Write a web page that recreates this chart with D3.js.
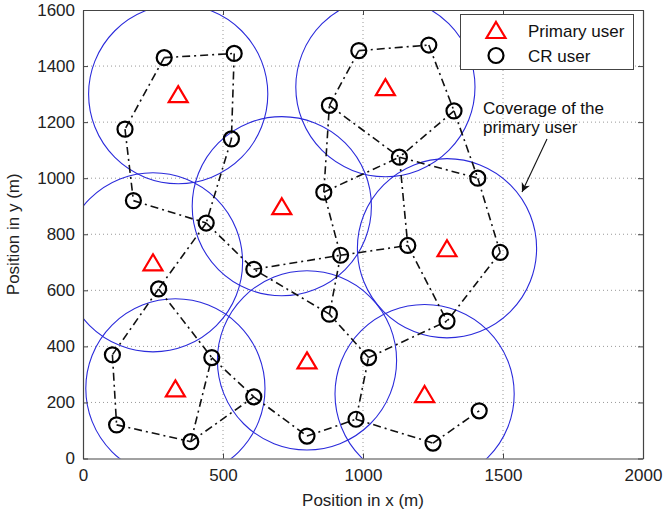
<!DOCTYPE html>
<html>
<head>
<meta charset="utf-8">
<script src="https://cdn.jsdelivr.net/npm/d3@7"></script>
<style>
  body { margin: 0; background: #fff; }
  svg { display: block; font-family: "Liberation Sans", Arial, sans-serif; }
</style>
</head>
<body>
<div id="chart"></div>
<script>
// primary users (triangles) and their coverage circles
const puX = [340, 710, 1080, 250, 330, 800, 1300, 1220];
const puY = [1300, 900, 1325, 700, 250, 350, 750, 230];
const coverageRadius = 320;

// CR users (circles)
const crX = [290, 540, 150, 530, 180, 440, 270, 610, 105, 460,
             120, 385, 610, 800, 880, 920, 975, 1020, 1250, 1415,
             1300, 1160, 1490, 860, 880, 985, 1235, 1325, 1130, 1410];
const crY = [1430, 1445, 1175, 1140, 920, 840, 605, 675, 370, 360,
             120, 60, 220, 80, 515, 725, 140, 360, 55, 170,
             490, 760, 735, 950, 1260, 1455, 1475, 1240, 1075, 1000];

// links between CR users (index pairs)
const links = [[0,1],[0,2],[1,3],[2,4],[4,5],[3,5],[5,6],[5,7],[6,8],[6,9],
               [8,10],[10,11],[11,9],[11,12],[9,12],[12,13],[13,16],[16,17],[16,18],[18,19],
               [17,14],[17,20],[14,7],[14,15],[7,15],[15,23],[15,21],[23,24],[23,28],[24,25],
               [24,28],[25,26],[26,27],[27,28],[27,29],[28,29],[28,21],[29,22],[22,20],[21,20]];

const xTicks = [0, 500, 1000, 1500, 2000];
const yTicks = [0, 200, 400, 600, 800, 1000, 1200, 1400, 1600];

const width = 665, height = 512;
const margin = { top: 10, right: 22, bottom: 53.5, left: 83 };
const iw = width - margin.left - margin.right;
const ih = height - margin.top - margin.bottom;

const svg = d3.select("#chart").append("svg")
  .attr("width", width).attr("height", height);

const x = d3.scaleLinear().domain([0, 2000]).range([0, iw]);
const y = d3.scaleLinear().domain([0, 1600]).range([ih, 0]);

const g = svg.append("g").attr("transform", `translate(${margin.left},${margin.top})`);

g.append("clipPath").attr("id", "clip")
  .append("rect").attr("width", iw).attr("height", ih);

// grid
g.append("g").selectAll("line").data(xTicks.slice(1, -1)).join("line")
  .attr("x1", d => x(d)).attr("x2", d => x(d)).attr("y1", 0).attr("y2", ih)
  .attr("stroke", "#999").attr("stroke-dasharray", "1,3");
g.append("g").selectAll("line").data(yTicks.slice(1, -1)).join("line")
  .attr("y1", d => y(d)).attr("y2", d => y(d)).attr("x1", 0).attr("x2", iw)
  .attr("stroke", "#999").attr("stroke-dasharray", "1,3");

const plot = g.append("g").attr("clip-path", "url(#clip)");

// coverage circles
plot.selectAll(".cov").data(puX).join("circle")
  .attr("cx", d => x(d)).attr("cy", (d, i) => y(puY[i]))
  .attr("r", x(coverageRadius) - x(0))
  .attr("fill", "none").attr("stroke", "#2b2bdb").attr("stroke-width", 1.1);

// links
plot.selectAll(".link").data(links).join("line")
  .attr("x1", d => x(crX[d[0]])).attr("y1", d => y(crY[d[0]]))
  .attr("x2", d => x(crX[d[1]])).attr("y2", d => y(crY[d[1]]))
  .attr("stroke", "#111").attr("stroke-width", 1.6)
  .attr("stroke-dasharray", "8,4,2,4");

// CR users
plot.selectAll(".cr").data(crX).join("circle")
  .attr("cx", d => x(d)).attr("cy", (d, i) => y(crY[i]))
  .attr("r", 7.5).attr("fill", "none").attr("stroke", "#000").attr("stroke-width", 2.2);

// primary users
const tri = "M0,-8L9.5,8L-9.5,8Z";
plot.selectAll(".pu").data(puX).join("path")
  .attr("d", tri)
  .attr("transform", (d, i) => `translate(${x(d)},${y(puY[i])})`)
  .attr("fill", "none").attr("stroke", "#f00").attr("stroke-width", 2.2);

// axes box with inward ticks
const axisColor = "#444";
const fmt = d3.format("d");
const xb = g.append("g").attr("transform", `translate(0,${ih})`)
  .call(d3.axisBottom(x).tickValues(xTicks).tickFormat(fmt).tickSizeInner(-5).tickSizeOuter(0).tickPadding(10));
const xt = g.append("g")
  .call(d3.axisTop(x).tickValues(xTicks).tickSizeInner(-5).tickSizeOuter(0).tickFormat(""));
const yl = g.append("g")
  .call(d3.axisLeft(y).tickValues(yTicks).tickFormat(fmt).tickSizeInner(-5).tickSizeOuter(0).tickPadding(8));
const yr = g.append("g").attr("transform", `translate(${iw},0)`)
  .call(d3.axisRight(y).tickValues(yTicks).tickSizeInner(-5).tickSizeOuter(0).tickFormat(""));

[xb, xt, yl, yr].forEach(a => {
  a.select(".domain").attr("stroke", axisColor).attr("stroke-width", 1.2);
  a.selectAll(".tick line").attr("stroke", axisColor);
  a.selectAll("text").attr("fill", "#222").style("font-size", "17px")
    .style("font-family", "'Liberation Sans', Arial, sans-serif");
});

// axis titles
svg.append("text")
  .attr("x", margin.left + iw / 2).attr("y", 506)
  .attr("text-anchor", "middle").attr("fill", "#222").style("font-size", "17px")
  .text("Position in x (m)");
svg.append("text")
  .attr("transform", `translate(19,${margin.top + ih / 2}) rotate(-90)`)
  .attr("text-anchor", "middle").attr("fill", "#222").style("font-size", "17px")
  .text("Position in y (m)");

// legend
const lg = svg.append("g");
lg.append("rect").attr("x", 460.5).attr("y", 14.5).attr("width", 173).attr("height", 55)
  .attr("fill", "#fff").attr("stroke", "#444").attr("stroke-width", 1);
lg.append("path").attr("d", tri).attr("transform", "translate(496,30)")
  .attr("fill", "none").attr("stroke", "#f00").attr("stroke-width", 2.2);
lg.append("circle").attr("cx", 496).attr("cy", 55.5).attr("r", 7.5)
  .attr("fill", "none").attr("stroke", "#000").attr("stroke-width", 2.2);
lg.append("text").attr("x", 528).attr("y", 37).attr("fill", "#111").style("font-size", "17px")
  .text("Primary user");
lg.append("text").attr("x", 528).attr("y", 62).attr("fill", "#111").style("font-size", "17px")
  .text("CR user");

// annotation
svg.append("defs").append("marker")
  .attr("id", "arrow").attr("viewBox", "0 0 10 10")
  .attr("refX", 10).attr("refY", 5)
  .attr("markerWidth", 10).attr("markerHeight", 9).attr("markerUnits", "userSpaceOnUse")
  .attr("orient", "auto")
  .append("path").attr("d", "M0,0L10,5L0,10L3,5Z").attr("fill", "#111");

const ann = svg.append("g");
ann.append("text").attr("x", 483).attr("y", 114).attr("fill", "#111").style("font-size", "17px")
  .text("Coverage of the");
ann.append("text").attr("x", 483).attr("y", 133).attr("fill", "#111").style("font-size", "17px")
  .text("primary user");
ann.append("line")
  .attr("x1", 547).attr("y1", 139).attr("x2", 522).attr("y2", 192)
  .attr("stroke", "#111").attr("stroke-width", 1.1).attr("marker-end", "url(#arrow)");
</script>
</body>
</html>
